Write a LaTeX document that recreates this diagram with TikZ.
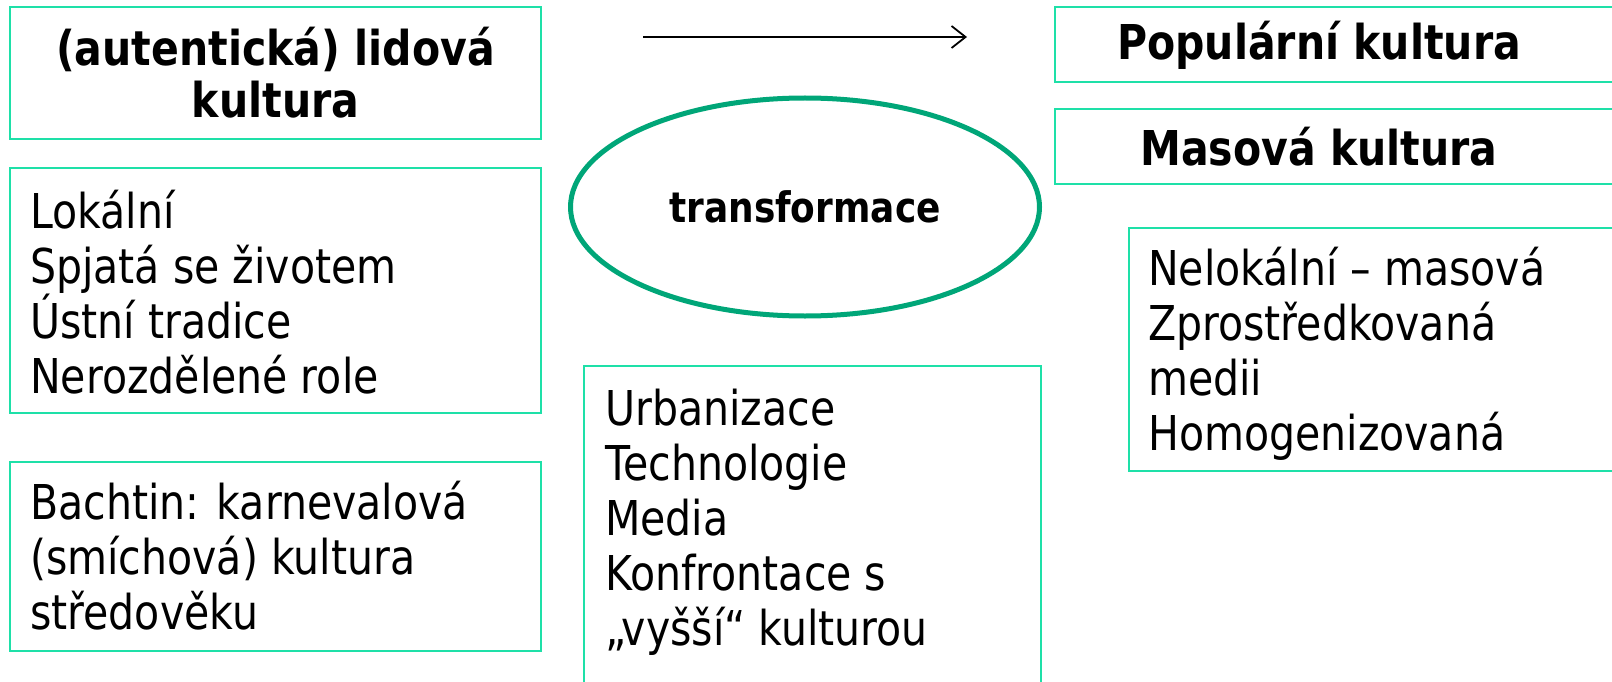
\documentclass[tikz,border=0pt]{standalone}
\usepackage{fontspec}
\setmainfont{DejaVu Sans}[FakeStretch=0.855]
\usepackage{tikz}
\usetikzlibrary{shapes.geometric}
\usetikzlibrary{arrows.meta}
\usepackage{xcolor}
\definecolor{framegreen}{RGB}{30,224,168}
\definecolor{ovalgreen}{RGB}{0,166,120}
\tikzset{
    kframe/.style={draw=framegreen, line width=2pt},
    kbig/.style={font=\fontsize{48}{55}\selectfont, inner sep=0pt},
    khead/.style={font=\fontsize{48}{52}\selectfont\bfseries, inner sep=0pt, align=center},
    klist/.style={kbig, align=left, anchor=base west}
}

\begin{document}
\begin{tikzpicture}[x=1pt,y=-1pt]
\useasboundingbox (0,0) rectangle (1612,682);
% frames, the right-hand ones run off the page
\foreach \xa/\ya/\xb/\yb in {10/7/541/139, 10/168/541/413, 10/462/541/651, 1055/7/1640/82, 1055/109/1640/184, 1129/228/1640/471, 584/366/1041/720}{
    \draw[kframe] (\xa,\ya) rectangle (\xb,\yb);
}
\node[khead] (lidova) at (275.5,73) {(autentická) lidová\\kultura};
\node[khead] (popularni) at (1319,45) {Populární kultura};
\node[khead] (masova) at (1319,147) {Masová kultura};
% lists sit on the baseline of their last line
\node[klist] (znaky) at (30,393) {Lokální\\Spjatá se životem\\Ústní tradice\\Nerozdělené role};
\node[klist] (bachtin) at (30,629) {Bachtin: karnevalová\\(smíchová) kultura\\středověku};
\node[klist] (faktory) at (605,645) {Urbanizace\\Technologie\\Media\\Konfrontace s\\„vyšší“ kulturou};
\node[klist] (masove) at (1148,450) {Nelokální – masová\\Zprostředkovaná\\medii\\Homogenizovaná};
\node[draw=ovalgreen, line width=5pt, ellipse, minimum width=469, minimum height=218, inner sep=0pt, font=\fontsize{42}{42}\selectfont\bfseries] (transformace) at (805,207) {transformace};
\coordinate (odkud) at (643,37);
\coordinate (kam) at (967,37);
\draw[-{Straight Barb[length=14pt,width=22pt]}, line width=1.8pt] (odkud) -- (kam);
\end{tikzpicture}
\end{document}
